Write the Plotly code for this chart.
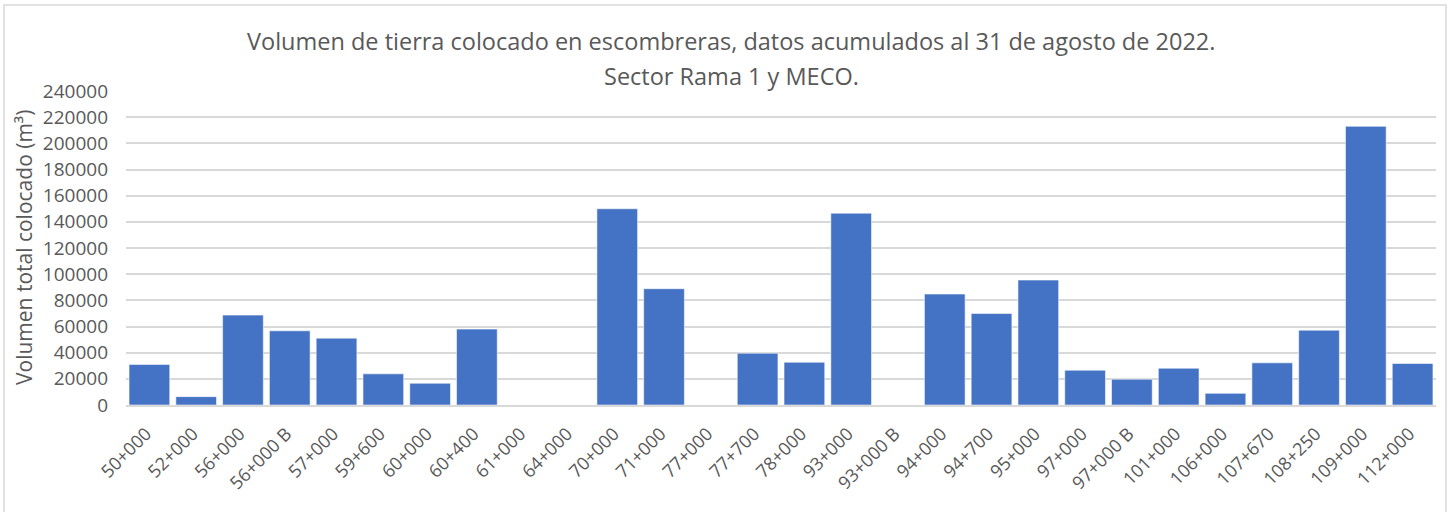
import plotly.graph_objects as go

categories = ["50+000", "52+000", "56+000", "56+000 B", "57+000", "59+600", "60+000",
              "60+400", "61+000", "64+000", "70+000", "71+000", "77+000", "77+700",
              "78+000", "93+000", "93+000 B", "94+000", "94+700", "95+000", "97+000",
              "97+000 B", "101+000", "106+000", "107+670", "108+250", "109+000", "112+000"]
values = [31000, 6400, 68700, 56700, 51100, 23800, 16600,
          58000, 0, 0, 150000, 88900, 0, 39600,
          32700, 146600, 0, 84800, 70000, 95500, 26600,
          19700, 28100, 8900, 32200, 57200, 213000, 31700]
y_ticks = [0, 20000, 40000, 60000, 80000, 100000, 120000, 140000, 160000, 180000,
           200000, 220000, 240000]
title_line1 = "Volumen de tierra colocado en escombreras, datos acumulados al 31 de agosto de 2022."
title_line2 = "Sector Rama 1 y MECO."
y_title = "Volumen total colocado (m³)"

W, H = 1452, 512
L, R, T, B = 126, 16, 91, 107
pw, ph = W - L - R, H - T - B

def px_x(x):
    return (x - L) / pw

def px_y(y):
    return (H - B - y) / ph

grey = "#595959"
title_font = dict(size=23.5, color=grey, family="Open Sans, sans-serif")

fig = go.Figure(go.Bar(
    x=categories, y=values,
    marker=dict(color="#4472C4", line=dict(color="rgba(255,255,255,0.55)", width=1)),
    width=0.87,
))

fig.update_layout(
    width=W, height=H,
    margin=dict(l=L, r=R, t=T, b=B, autoexpand=False),
    plot_bgcolor="white", paper_bgcolor="white",
    showlegend=False,
    font=dict(family="Open Sans, DejaVu Sans, sans-serif", color=grey),
    xaxis=dict(
        type="category",
        tickangle=-45,
        tickvals=categories,
        ticktext=[c + "\u00a0" for c in categories],
        tickfont=dict(size=18, color=grey),
        showgrid=False,
        showline=True, linecolor="#d9d9d9", linewidth=2,
        ticks="", ticklabelstandoff=6,
        automargin=False,
    ),
    yaxis=dict(
        range=[0, 240000],
        tickvals=y_ticks,
        ticktext=[str(v) for v in y_ticks],
        tickfont=dict(size=19, color=grey),
        showgrid=True, gridcolor="#d9d9d9", gridwidth=1.5,
        zeroline=False, showline=False,
        ticks="", ticklabelstandoff=17,
        automargin=False,
    ),
    shapes=[dict(
        type="rect", xref="paper", yref="paper",
        x0=px_x(4), x1=px_x(1446), y0=px_y(5), y1=px_y(520),
        line=dict(color="#d9d9d9", width=1.5), fillcolor="rgba(0,0,0,0)", layer="below",
    )],
    annotations=[
        dict(text=title_line1, xref="paper", yref="paper", x=px_x(731), y=px_y(41),
             showarrow=False, xanchor="center", yanchor="middle", font=title_font),
        dict(text=title_line2, xref="paper", yref="paper", x=px_x(731), y=px_y(76),
             showarrow=False, xanchor="center", yanchor="middle", font=title_font),
        dict(text=y_title, xref="paper", yref="paper", x=px_x(24), y=px_y(248),
             showarrow=False, xanchor="center", yanchor="middle", textangle=-90,
             font=dict(size=21, color=grey)),
    ],
)

fig.write_html("out.html", config={"displayModeBar": False},
               post_script="document.body.style.margin='0';")
